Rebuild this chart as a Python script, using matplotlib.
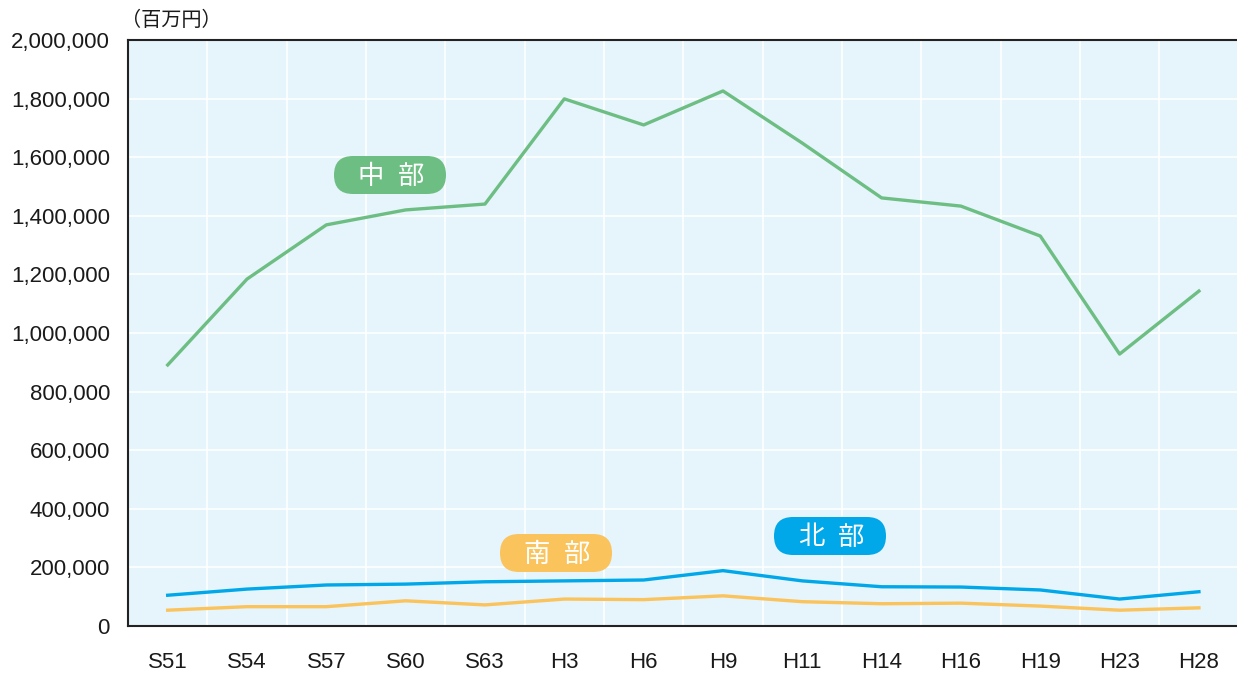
import matplotlib
matplotlib.use("Agg")
import matplotlib.pyplot as plt
from matplotlib.ticker import FuncFormatter, MultipleLocator
from matplotlib.patches import FancyBboxPatch
from matplotlib.transforms import IdentityTransform

plt.rcParams['font.family'] = ['Noto Sans CJK JP', 'DejaVu Sans']

categories = ["S51", "S54", "S57", "S60", "S63", "H3", "H6", "H9", "H11", "H14", "H16", "H19", "H23", "H28"]
chubu = [891000, 1184000, 1369000, 1420000, 1440000, 1799000, 1710000, 1826000, 1648000, 1461000, 1433000, 1331000, 928000, 1143000]
hokubu = [105000, 126000, 140000, 143000, 151000, 154000, 157000, 189000, 154000, 134000, 133000, 123000, 92000, 117000]
nanbu = [54000, 66000, 66000, 86000, 72000, 92000, 90000, 103000, 83000, 76000, 78000, 68000, 54000, 62000]

c_green = "#6dbe82"
c_blue = "#00a7e9"
c_yellow = "#fac35c"

tick_family = ['Liberation Sans']

fig = plt.figure(figsize=(12.37, 6.74), dpi=100)
ax = fig.add_axes([0.1035, 0.0712, 0.8965, 0.8695])
ax.set_facecolor("#e6f4fc")

x = list(range(len(categories)))
ax.plot(x, chubu, color=c_green, lw=2.4, zorder=3)
ax.plot(x, hokubu, color=c_blue, lw=2.4, zorder=3)
ax.plot(x, nanbu, color=c_yellow, lw=2.4, zorder=3)

ax.set_xlim(-0.5, 13.48)
ax.set_ylim(0, 2000000)
ax.yaxis.set_major_locator(MultipleLocator(200000))
ax.yaxis.set_major_formatter(FuncFormatter(lambda v, p: f"{int(v):,}"))
ax.set_xticks(x)
ax.set_xticklabels(categories)
ax.set_xticks([i + 0.5 for i in x[:-1]], minor=True)
ax.grid(axis='y', which='major', color='white', lw=1.2)
ax.grid(axis='x', which='minor', color='white', lw=1.2)
ax.set_axisbelow(True)
ax.tick_params(axis='both', which='both', length=0, labelsize=16, colors='#1a1a1a')
ax.tick_params(axis='x', pad=19)
ax.tick_params(axis='y', pad=13)
for lab in ax.get_xticklabels() + ax.get_yticklabels():
    lab.set_family(tick_family)
for s in ['left', 'top', 'bottom']:
    ax.spines[s].set_color('#222222')
    ax.spines[s].set_linewidth(1.5)
ax.spines['right'].set_visible(False)

fig.text(121 / 1237, 1 - 21 / 674, "（百万円）", fontsize=14.5, ha='left', va='center', color='#1a1a1a')

H = 674
def tag(cx, cy, chars, col, w=112, h=38):
    y = H - cy
    p = FancyBboxPatch((cx - w / 2, y - h / 2), w, h,
                       boxstyle=f"round,pad=0,rounding_size={h/2}",
                       transform=IdentityTransform(), fc=col, ec='none', zorder=5)
    fig.patches.append(p)
    for i, ch in enumerate(chars):
        off = -19 if i == 0 else 21
        fig.text((cx + off) / 1237, (y - 1) / H, ch, color='white', fontsize=19,
                 ha='center', va='center', zorder=6)

tag(390, 175, "中部", c_green)
tag(556, 553, "南部", c_yellow)
tag(830, 536, "北部", c_blue)

fig.savefig("out.png", dpi=100)
